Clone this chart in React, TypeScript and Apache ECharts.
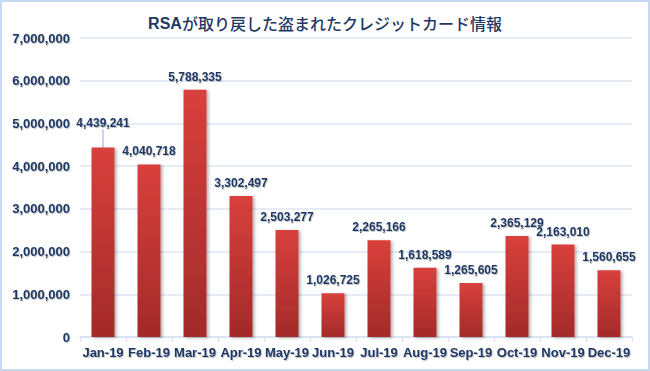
import React, { useEffect, useRef } from "react";
import * as echarts from "echarts";

const titleText = "が取り戻した盗まれたクレジットカード情報";
const titlePrefix = "RSA";
const categories = ["Jan-19", "Feb-19", "Mar-19", "Apr-19", "May-19", "Jun-19", "Jul-19", "Aug-19", "Sep-19", "Oct-19", "Nov-19", "Dec-19"];
const values = [4439241, 4040718, 5788335, 3302497, 2503277, 1026725, 2265166, 1618589, 1265605, 2365129, 2163010, 1560655];
const yMax = 7000000;
const yInterval = 1000000;

const navy = "#1F3864";
const fmt = (v: number) => v.toLocaleString("en-US");
const shadowText = {
  textShadowColor: "rgba(0,0,0,0.22)",
  textShadowBlur: 1.5,
  textShadowOffsetX: 1,
  textShadowOffsetY: 1,
};

export default function App() {
  const ref = useRef<HTMLDivElement>(null);
  useEffect(() => {
    if (!ref.current) return;
    const chart = echarts.init(ref.current, null, { renderer: "svg" });
    const seriesData = values.map((v, i) =>
      i === 0
        ? { value: v, labelLine: { show: true, lineStyle: { color: "#8EA9DB", width: 1 } } }
        : { value: v, labelLine: { show: false } }
    );
    chart.setOption({
      animation: false,
      backgroundColor: "#ffffff",
      textStyle: { fontFamily: "Liberation Sans, Arial, sans-serif" },
      title: {
        text: `{b|${titlePrefix}}{n|${titleText}}`,
        left: "center",
        top: 10,
        textStyle: {
          rich: {
            b: { fontSize: 16, fontWeight: "bold", color: navy, fontFamily: "Liberation Sans, Arial, sans-serif" },
            n: { fontSize: 16, fontWeight: 500, color: navy, fontFamily: "Noto Sans CJK JP, sans-serif" },
          },
        },
      },
      graphic: [
        {
          type: "rect",
          shape: { x: 1, y: 1, width: 648, height: 369 },
          style: { fill: "none", stroke: "#C6D9F0", lineWidth: 2 },
          silent: true,
        },
      ],
      grid: { left: 80, right: 18, top: 38, bottom: 34, containLabel: false },
      xAxis: {
        type: "category",
        data: categories,
        axisLine: { lineStyle: { color: "#D9E1F2", width: 1.5 } },
        axisTick: { show: true, alignWithLabel: false, length: 5, lineStyle: { color: "#D9E1F2" } },
        axisLabel: { color: navy, fontWeight: "bold", fontSize: 13, margin: 9, interval: 0, ...shadowText },
      },
      yAxis: {
        type: "value",
        min: 0,
        max: yMax,
        interval: yInterval,
        axisLine: { show: false },
        axisTick: { show: false },
        splitLine: { lineStyle: { color: "#DCE6F2", width: 1.5 } },
        axisLabel: { color: navy, fontWeight: "bold", fontSize: 13, margin: 10, formatter: (v: number) => fmt(v), ...shadowText },
      },
      series: [
        {
          type: "bar",
          data: seriesData,
          barWidth: "50%",
          itemStyle: {
            color: new echarts.graphic.LinearGradient(0, 0, 0, 1, [
              { offset: 0, color: "#D8403C" },
              { offset: 1, color: "#A32A2A" },
            ]),
            shadowColor: "rgba(0,0,0,0.3)",
            shadowBlur: 3,
            shadowOffsetX: 2,
            shadowOffsetY: 1,
          },
          label: {
            show: true,
            position: "top",
            distance: 7,
            color: navy,
            fontWeight: "bold",
            fontSize: 12,
            formatter: (p: any) => fmt(p.value),
            ...shadowText,
          },
          labelLayout: (p: any) => (p.dataIndex === 0 ? { dy: -11 } : {}),
        },
      ],
    });
    return () => chart.dispose();
  }, []);
  return (
    <div
      ref={ref}
      style={{ position: "fixed", left: 0, top: 0, width: 650, height: 371 }}
    />
  );
}
